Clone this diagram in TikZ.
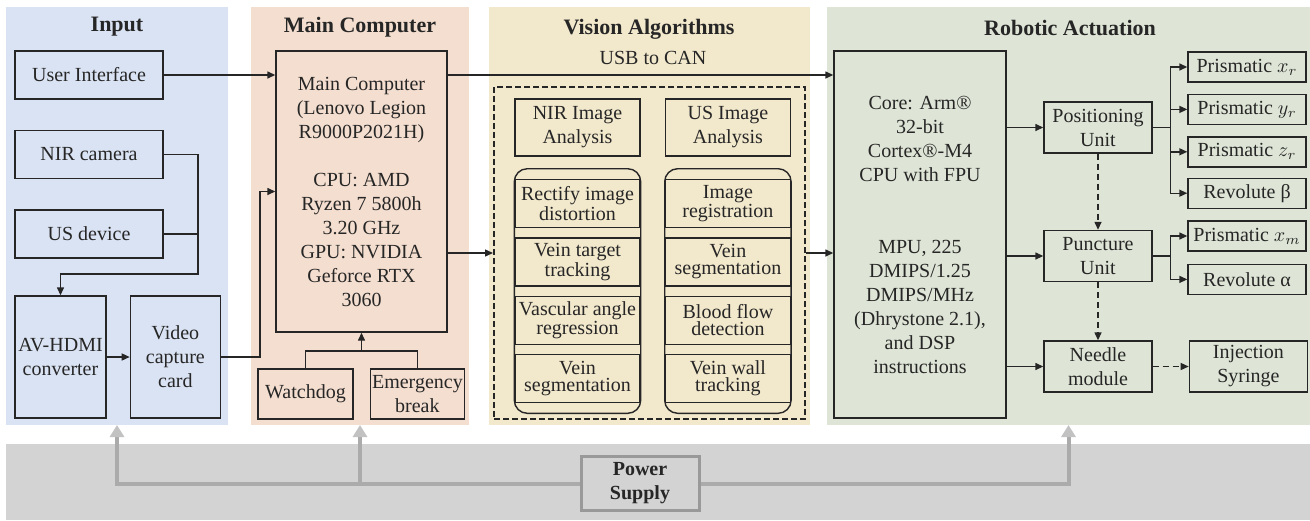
\documentclass[tikz,border=0pt]{standalone}
\usepackage{fontspec}
\setmainfont{Liberation Serif}
\usetikzlibrary{positioning,arrows.meta,fit,backgrounds}

\definecolor{inblue}{HTML}{DAE3F3}
\definecolor{mcorange}{HTML}{F4DECF}
\definecolor{visgold}{HTML}{F2E8CC}
\definecolor{robgreen}{HTML}{DEE5D6}
\definecolor{pwrgray}{HTML}{D3D3D3}

\begin{document}
\begin{tikzpicture}[
    x=0.5pt, y=-0.5pt,
    font=\fontsize{10}{12}\selectfont,
    text=black!85,
    >={Triangle[length=4pt,width=3.5pt]},
    panel/.style={inner sep=0pt, outer sep=0pt},
    head/.style={font=\fontsize{11}{12}\selectfont\bfseries},
    blk/.style={
        draw=black!85,
        line width=0.7pt,
        align=center,
        inner sep=1pt
    },
    dev/.style={blk, minimum width=74pt, minimum height=24pt},
    unit/.style={blk, minimum width=54pt, minimum height=25.5pt},
    joint/.style={blk, minimum width=59pt, minimum height=15pt},
    algo/.style={
        blk,
        minimum width=62.5pt,
        minimum height=24pt,
        font=\fontsize{10}{8.5}\selectfont
    },
    stack/.style={
        draw=black!85,
        line width=0.7pt,
        rounded corners=6.5pt,
        inner xsep=0pt,
        inner ysep=5pt
    },
    wire/.style={line width=0.7pt, draw=black!85},
    pwr/.style={
        line width=2pt,
        draw=black!33,
        -{Triangle[length=6pt,width=7pt,color=black!24]}
    }
]
\useasboundingbox (0,0) rectangle (1310,520);

% Panels
\node[panel, fill=inblue, minimum width=111pt, minimum height=209pt] (inpanel) at (117,216) {};
\node[panel, fill=mcorange, minimum width=109pt, minimum height=209pt] (mcpanel) at (360,216) {};
\node[panel, fill=visgold, minimum width=160.5pt, minimum height=209pt] (vispanel) at (649.5,216) {};
\node[panel, fill=robgreen, minimum width=241.5pt, minimum height=209pt] (robpanel) at (1068.5,216) {};
\fill[pwrgray] (6,444) rectangle (1310,520);

% Input
\node[head] (intitle) at (117,27) {Input};
\node[dev] (ui) at (89,75) {User Interface};
\node[dev, below=15pt of ui] (nir) {NIR camera};
\node[dev, below=15pt of nir] (usd) {US device};
\node[blk, inner xsep=0.3pt, minimum width=45.5pt, minimum height=61pt] (avhdmi) at (60.5,357) {AV-HDMI\\converter};
\node[blk, minimum width=45pt, minimum height=61pt, right=11.5pt of avhdmi] (vcc) {Video\\capture\\card};

% Main Computer
\node[head] (mctitle) at (360,27) {Main Computer};
\node[blk, minimum width=85.5pt, minimum height=140.5pt] (mc) at (361.5,191.5) {
    Main Computer\\(Lenovo Legion\\R9000P2021H)\\[12pt]
    CPU: AMD\\Ryzen 7 5800h\\3.20 GHz\\GPU: NVIDIA\\Geforce RTX\\3060
};
\node[blk, minimum width=47.5pt, minimum height=25pt] (wd) at (305.5,394) {Watchdog};
\node[blk, inner xsep=0.3pt, minimum width=47pt, minimum height=25pt, right=8pt of wd] (eb) {Emergency\\break};

% Vision Algorithms
\node[head] (vistitle) at (649,29) {Vision Algorithms};
\node (usbcan) at (653,58) {USB to CAN};
\node[draw=black!85, line width=1pt, dash pattern=on 3pt off 1.5pt,
      minimum width=155.5pt, minimum height=166pt] (vis) at (649.5,253) {};
\node[blk, minimum width=62.5pt, minimum height=28.5pt] (nira) at (577.5,127.5) {NIR Image\\Analysis};
\node[blk, minimum width=62.5pt, minimum height=28.5pt, right=12pt of nira] (usa) {US Image\\Analysis};
\node[algo, below=11pt of nira] (na1) {Rectify image\\distortion};
\node[algo, below=4.5pt of na1] (na2) {Vein target\\tracking};
\node[algo, below=4.5pt of na2] (na3) {Vascular angle\\regression};
\node[algo, below=4.5pt of na3] (na4) {Vein\\segmentation};
\node[algo, below=11pt of usa] (ua1) {Image\\registration};
\node[algo, below=4.5pt of ua1] (ua2) {Vein\\segmentation};
\node[algo, below=4.5pt of ua2] (ua3) {Blood flow\\detection};
\node[algo, below=4.5pt of ua3] (ua4) {Vein wall\\tracking};
\node[stack, fit=(na1)(na4)] (nastack) {};
\node[stack, fit=(ua1)(ua4)] (uastack) {};

% Robotic Actuation
\node[head] (robtitle) at (1070,28) {Robotic Actuation};
\node[blk, minimum width=86pt, minimum height=183.5pt] (ctrl) at (920,234.5) {
    Core: Arm®\\32-bit\\Cortex®-M4\\CPU with FPU\\[24pt]
    MPU, 225\\DMIPS/1.25\\DMIPS/MHz\\(Dhrystone 2.1),\\and DSP\\instructions
};
\node[unit] (pos) at (1098,127.5) {Positioning\\Unit};
\node[unit] (pun) at (1098,256) {Puncture\\Unit};
\node[unit] (ndl) at (1098,366.5) {Needle\\module};
\node[blk, minimum width=59pt, minimum height=25.5pt, right=18pt of ndl] (inj) {Injection\\Syringe};
\node[joint] (pxr) at (1247,67) {Prismatic $x_r$};
\node[joint, below=5.5pt of pxr] (pyr) {Prismatic $y_r$};
\node[joint, below=5.5pt of pyr] (pzr) {Prismatic $z_r$};
\node[joint, below=5pt of pzr] (rvb) {Revolute β};
\node[joint] (pxm) at (1247,236) {Prismatic $x_m$};
\node[joint, below=6pt of pxm] (rva) {Revolute α};

% Power Supply
\node[draw=black!40, line width=1.5pt, fill=pwrgray, align=center,
      minimum width=59pt, minimum height=25.5pt, font=\fontsize{10}{12}\selectfont\bfseries] (ps) at (640,483.5) {Power\\Supply};

% Connections
\draw[wire,->] (ui.east) -- (ui.east -| mc.west);
\coordinate (camjoin) at (198,274);
\draw[wire,->] (nir.east) -| (camjoin) -| (avhdmi.north);
\draw[wire] (usd.east) -- (usd.east -| camjoin);
\draw[wire,->] (avhdmi) -- (vcc);
\draw[wire,->] (vcc.east) -- ++(19.5pt,0) |- (mc.west);

\coordinate (safejoin) at (361.5,351);
\draw[wire] (wd.north) |- (safejoin) -| (eb.north);
\draw[wire,->] (safejoin) -- (mc.south);

\draw[wire,->] (mc.east |- ui) -- (ctrl.west |- ui);
\draw[wire,->] (mc.east |- vis.west) -- (vis.west);
\draw[wire,->] (vis.east) -- (vis.east -| ctrl.west);

\draw[wire,->] (ctrl.east |- pos.west) -- (pos.west);
\draw[wire,->] (ctrl.east |- pun.west) -- (pun.west);
\draw[wire,->] (ctrl.east |- ndl.west) -- (ndl.west);

\draw[wire] (pos.east) -- ++(9pt,0) coordinate (posjoin);
\foreach \j in {pxr,pyr,pzr,rvb}
    \draw[wire,->] (posjoin) |- (\j.west);
\draw[wire] (pun.east) -- ++(9pt,0) coordinate (punjoin);
\foreach \j in {pxm,rva}
    \draw[wire,->] (punjoin) |- (\j.west);

\draw[wire,->,dash pattern=on 3pt off 2pt] (pos) -- (pun);
\draw[wire,->,dash pattern=on 3pt off 2pt] (pun) -- (ndl);
\draw[wire,->,dash pattern=on 3pt off 2pt] (ndl) -- (inj);

\draw[pwr] (ps.west) -| (inpanel.south);
\draw[pwr] (ps.west -| mcpanel.south) -- (mcpanel.south);
\draw[pwr] (ps.east) -| (robpanel.south);

\end{tikzpicture}
\end{document}
